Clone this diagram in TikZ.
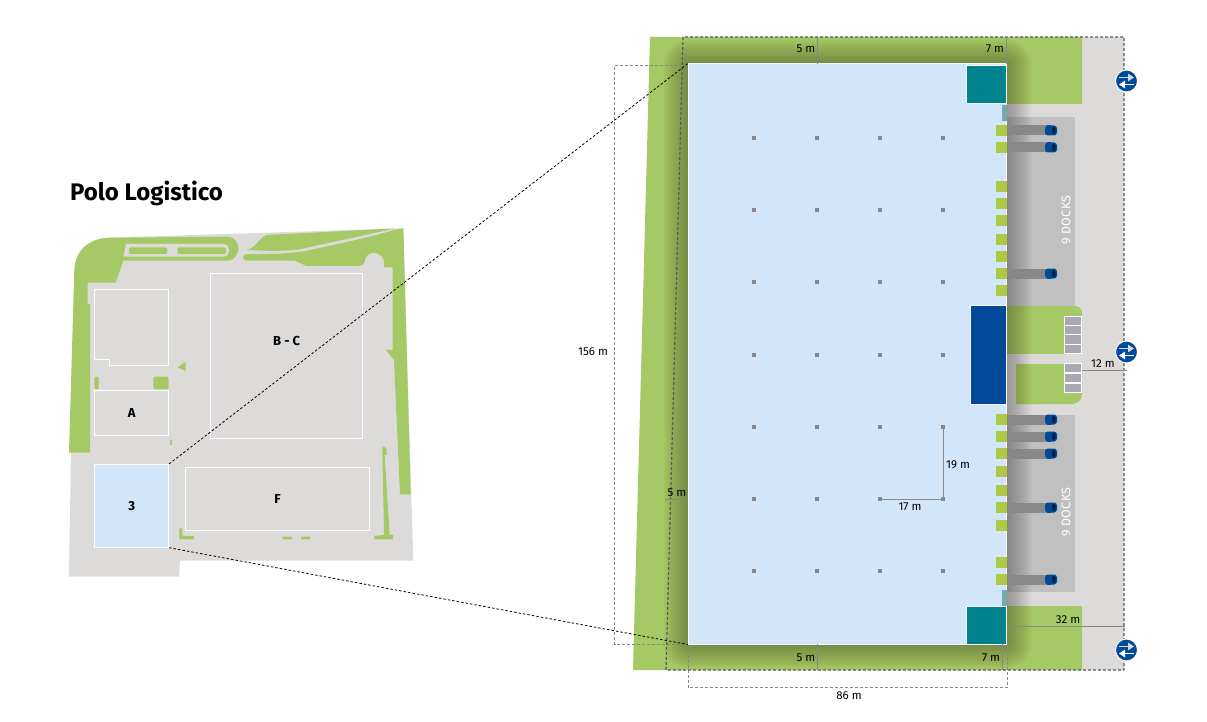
\documentclass[tikz,border=0pt]{standalone}
\usepackage{fontspec}
\setmainfont{Fira Sans}
\usetikzlibrary{arrows.meta}
\definecolor{sitegrey}{HTML}{DCDBD9}
\definecolor{sitegreen}{HTML}{A5CA65}
\definecolor{hallblue}{HTML}{D2E6FA}
\definecolor{dockgrey}{HTML}{C0C0C0}
\definecolor{doorgreen}{HTML}{AFC846}
\definecolor{officeteal}{HTML}{00828F}
\definecolor{officeblue}{HTML}{004A99}
\definecolor{stripteal}{HTML}{78A8B4}
\definecolor{parkgrey}{HTML}{A9A9B4}
\definecolor{pillargrey}{HTML}{888888}
\begin{document}
\begin{tikzpicture}[
        x=1pt, y=-1pt,
        building/.style={rectangle, draw=white, line width=0.8pt, inner sep=0pt, font=\fontsize{13}{15}\selectfont\bfseries},
        officenode/.style={rectangle, draw=white, line width=1pt, inner sep=0pt, anchor=north west},
        parknode/.style={rectangle, draw=white, line width=0.8pt, fill=parkgrey, inner sep=0pt, minimum width=17.5pt, minimum height=9.5pt},
        doornode/.style={rectangle, fill=doorgreen, inner sep=0pt, minimum width=11pt, minimum height=11pt, anchor=east},
        pillar/.style={rectangle, fill=pillargrey, inner sep=0pt, minimum size=4pt},
        signnode/.style={circle, draw=white, line width=1pt, fill=officeblue, inner sep=0pt, minimum size=22pt},
        measure/.style={inner sep=0pt, font=\fontsize{11.5}{13}\selectfont},
        docklabel/.style={inner sep=0pt, text=white, rotate=90, font=\fontsize{12.5}{14}\selectfont\addfontfeature{LetterSpace=3}},
        dimline/.style={draw=pillargrey, line width=0.8pt},
        gaugeline/.style={draw=pillargrey, line width=0.7pt, dash pattern=on 3pt off 2pt},
        zoomline/.style={draw=black, line width=0.8pt, dash pattern=on 2.5pt off 2pt},
    ]
    \useasboundingbox (0,0) rectangle (1207,722);
    \node[anchor=west, inner sep=0pt, font=\fontsize{24}{28}\selectfont\bfseries] (title) at (70,193) {Polo Logistico};

    % site map, in coordinates of the enlarged crop
    \begin{scope}[shift={(50,170)}, x=1pt/3, y=-1pt/3]
        \fill[sitegrey] (1060,175) -- (1090,1172) -- (390,1172) -- (387,1220) -- (57,1220) -- (63,848) -- (73,300) -- (180,203) -- cycle;
        \fill[sitegreen] (57,848) -- (73,300) .. controls (75,240) and (120,203) .. (180,203) -- (530,200) .. controls (555,200) and (565,218) .. (565,235) .. controls (565,255) and (550,272) .. (535,272) -- (220,272) -- (197,338) -- (113,338) -- (113,402) -- (120,402) -- (120,848) -- cycle;
        \fill[sitegrey] (228,222) -- (520,222) .. controls (532,222) and (538,232) .. (538,241) .. controls (538,250) and (532,260) .. (520,260) -- (220,260) -- cycle;
        \fill[sitegreen, rounded corners=2pt] (237,232) rectangle (352,252) (382,232) rectangle (528,252);
        \fill[sitegreen] (590,240) .. controls (620,232) and (625,205) .. (650,195) -- (1035,175) .. controls (950,195) and (850,215) .. (750,238) .. controls (700,245) and (640,242) .. (590,240) -- cycle;
        \fill[sitegreen] (592,252) .. controls (640,254) and (700,252) .. (760,244) .. controls (850,225) and (950,205) .. (1040,178) -- (1060,175) -- (1082,973) -- (1050,973) -- (1032,570) -- (1008,540) -- (1028,540) -- (1028,292) -- (1002,292) .. controls (1008,262) and (985,248) .. (972,248) .. controls (955,248) and (945,262) .. (945,270) .. controls (945,280) and (935,288) .. (925,288) -- (770,288) -- (735,272) -- (592,272) .. controls (575,272) and (575,252) .. (592,252) -- cycle;
        \fill[sitegreen] (383,592) -- (407,575) -- (407,604) -- cycle;
        \fill[sitegreen, rounded corners=1.5pt] (133,658) -- (133,620) -- (146,620) -- (146,658) -- cycle;
        \fill[sitegreen, rounded corners=2pt] (310,658) -- (310,620) -- (356,620) -- (356,658) -- cycle;
        \fill[sitegreen] (360,810) rectangle (366,826);
        \fill[sitegreen] (388,1075) -- (397,1075) -- (397,1098) -- (432,1098) -- (432,1108) -- (388,1108) -- cycle;
        \fill[sitegreen] (698,1100) rectangle (726,1108) (753,1100) rectangle (780,1108);
        \fill[sitegreen] (997,830) -- (1003,830) -- (1010,838) -- (1010,855) -- (1004,855) -- (1019,1095) -- (1030,1095) -- (1030,1108) -- (972,1108) -- (972,1098) -- (1002,1095) -- cycle;
        \draw[draw=white, line width=0.8pt] (134,358) -- (356,358) -- (356,586) -- (178,586) -- (178,568) -- (134,568) -- cycle;
    \end{scope}
    \node[building, minimum width=74pt, minimum height=45pt] (hallA) at (131.7,412.8) {A};
    \node[building, fill=hallblue, minimum width=74pt, minimum height=83pt] (hall3) at (131.7,505.8) {3};
    \node[building, minimum width=152.4pt, minimum height=165pt] (hallBC) at (286.5,355.8) {};
    \node[measure, font=\fontsize{13}{15}\selectfont\bfseries] (labelBC) at (286.7,341) {B - C};
    \node[building, minimum width=184.4pt, minimum height=63pt] (hallF) at (277.5,498.8) {F};

    % ground around the hall
    \fill[sitegrey] (1007,37) rectangle (1124,670);
    \fill[dockgrey] (1007,117) rectangle (1075,306);
    \fill[dockgrey] (1007,415) rectangle (1075,592);
    \fill[sitegreen] (650,37) -- (1082,37) -- (1082,104) -- (1007,104) -- (1007,606) -- (1082,606) -- (1082,670) -- (633,670) -- cycle;
    \fill[sitegreen, rounded corners=7pt] (1000,306) -- (1082,306) -- (1082,330) -- (1000,330) -- cycle;
    \fill[sitegreen] (1000,315) rectangle (1082,354);
    \fill[sitegreen, rounded corners=10pt] (1016,380) -- (1082,380) -- (1082,404) -- (1016,404) -- cycle;
    \fill[sitegreen] (1016,364) rectangle (1082,392) (1016,392) rectangle (1040,404);

    % shadow of the hall
    \begin{scope}
        \clip (650,37) -- (1124,37) -- (1124,670) -- (633,670) -- cycle;
        \foreach \i in {1,...,25} {
            \fill[black, fill opacity=0.01, rounded corners=\i pt] ({688-\i},{64-\i}) rectangle ({1007+\i},{644+\i});
        }
    \end{scope}

    \node[rectangle, draw=white, line width=1pt, fill=hallblue, inner sep=0pt, minimum width=318pt, minimum height=580pt] (hall) at (847.5,354) {};
    \node[officenode, fill=officeteal, minimum width=40pt, minimum height=38pt] (officeN) at (965.5,65.5) {};
    \node[officenode, fill=officeteal, minimum width=40pt, minimum height=38pt] (officeS) at (965.5,605.5) {};
    \node[officenode, fill=officeblue, minimum width=36pt, minimum height=99pt] (officeM) at (969.5,304.5) {};
    \fill[stripteal] (1002,105) rectangle (1007,121) (1002,590) rectangle (1007,606);

    \foreach \y in {130.5,147.5,186.5,203.5,220.5,239,256.5,273.5,290.5,419.5,436.5,453.5,471,490.5,507.5,525.5,562.5,579.5} {
        \node[doornode] at (1007,\y) {};
    }
    \foreach \y in {130.5,147.5,273.5,419.5,436.5,453.5,507.5,579.5} {
        \fill[pillargrey] (1007.5,{\y-5}) rectangle (1047,{\y+5});
        \fill[officeblue, rounded corners=3pt] (1045,{\y-5}) rectangle (1057,{\y+5});
        \fill[officeblue] (1047,{\y-5}) rectangle (1051,{\y+5});
        \fill[black!60!officeblue, rounded corners=2pt] (1052,{\y-3.5}) rectangle (1055.5,{\y+3.5});
    }
    \foreach \y in {138,210,282,355,427,499,571} {
        \foreach \x in {754,817,880,943} {
            \node[pillar] at (\x,\y) {};
        }
    }
    \foreach \y in {320.7,330,339.3,348.7,368,378,388} {
        \node[parknode] at (1073,\y) {};
    }

    \node[docklabel] (docksN) at (1066,220) {9 DOCKS};
    \node[docklabel] (docksS) at (1066,512) {9 DOCKS};

    % dimensions
    \draw[gaugeline] (688,65.5) -- (614.5,65.5) -- (614.5,644.5) -- (688,644.5);
    \draw[gaugeline] (688,644.5) -- (688,687.5) -- (1007.5,687.5) -- (1007.5,644.5);
    \draw[draw=black!65, line width=1.2pt, dash pattern=on 3pt off 2pt] (683,37) -- (666,670) -- (1124,670) -- (1124,37) -- cycle;
    \draw[dimline] (817,37) -- (817,64);
    \draw[dimline] (1006.5,37) -- (1006.5,64);
    \draw[dimline] (817,644) -- (817,670);
    \draw[dimline] (1002.5,644) -- (1002.5,670);
    \draw[dimline] (1082,370.3) -- (1127,370.3);
    \draw[dimline] (1007,626.3) -- (1125,626.3);
    \draw[dimline] (943,427) -- (943,499) -- (880,499);
    \draw[dimline] (665,499.3) -- (688,499.3);
    \node[measure] (top5) at (806,49) {5 m};
    \node[measure] (top7) at (995,49) {7 m};
    \node[measure] (bottom5) at (806,658) {5 m};
    \node[measure] (bottom7) at (991,658) {7 m};
    \node[measure] (side5) at (677,493) {5 m};
    \node[measure] (dim19) at (958,465) {19 m};
    \node[measure] (dim17) at (910,507) {17 m};
    \node[measure] (dim12) at (1103,364) {12 m};
    \node[measure] (dim32) at (1068,620) {32 m};
    \node[measure] (dim156) at (593,352) {156 m};
    \node[measure] (dim86) at (849,696) {86 m};

    \foreach \name/\y in {signN/81,signM/352,signS/650} {
        \node[signnode] (\name) at (1126.5,\y) {};
        \draw[black!15, line width=1.5pt, -{Triangle[length=6pt,width=7.5pt]}] ([xshift=-7.5pt,yshift=3.5pt]\name.center) -- ([xshift=7.5pt,yshift=3.5pt]\name.center);
        \draw[white, line width=1.5pt, -{Triangle[length=6pt,width=7.5pt]}] ([xshift=7.5pt,yshift=-3.5pt]\name.center) -- ([xshift=-7.5pt,yshift=-3.5pt]\name.center);
    }

    \draw[zoomline] (hall3.north east) -- (hall.north west);
    \draw[zoomline] (hall3.south east) -- (hall.south west);
\end{tikzpicture}
\end{document}
